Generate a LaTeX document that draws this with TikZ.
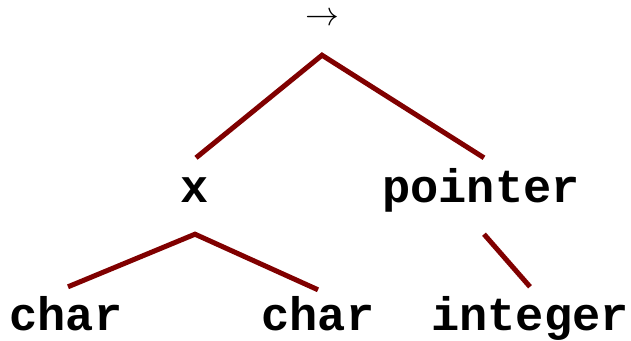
\documentclass[tikz,border=0pt]{standalone}
\usepackage{fontspec}
\setmonofont{Liberation Mono}
\tikzset{
  x=1pt, y=1pt,
  branch/.style={draw=treered, line width=5pt},
  word/.style={font=\ttfamily\bfseries\fontsize{47}{47}\selectfont, inner sep=0pt, anchor=base},
  inner/.style={word, text height=45pt, text depth=31pt},
  leaf/.style={word, text height=43pt, text depth=0pt},
  rootsym/.style={font=\fontsize{24.88}{25}\selectfont, inner sep=0pt, anchor=base, text height=14pt, text depth=29pt}
}
\definecolor{treered}{HTML}{800000}
\begin{document}
\begin{tikzpicture}
\useasboundingbox (0,0) rectangle (631,340);
% labels
\node[rootsym] (root) at (322,314) {\scalebox{1.36}{$\rightarrow$}};
\node[inner] (x) at (195,137) {x};
\node[inner] (ptr) at (481,137) {pointer};
\node[leaf] (c1) at (66,10) {char};
\node[leaf] (c2) at (318,10) {char};
\node[leaf] (int) at (530,10) {integer};
% branches
\draw[branch] ([xshift=1pt]x.north) -- (root.south) -- ([xshift=3pt]ptr.north);
\draw[branch] ([xshift=2pt]c1.north) -- (x.south) -- ([yshift=-3pt]c2.north);
\draw[branch] ([xshift=3pt]ptr.south) -- (int.north);
\end{tikzpicture}
\end{document}
